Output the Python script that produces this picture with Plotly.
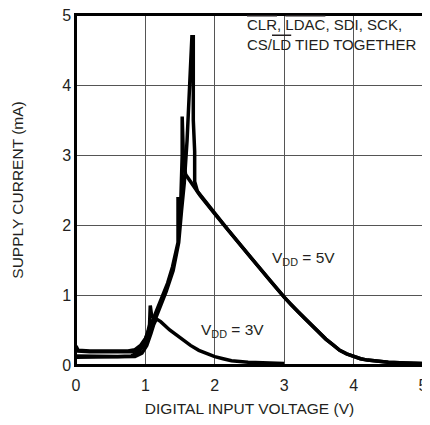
import plotly.graph_objects as go

# VDD = 5V, sweep 1 (with the 3.55 mA spike)
x5a = [0, 0.03, 0.2, 0.5, 0.75, 0.85, 0.93, 1.0, 1.07, 1.15, 1.24, 1.32, 1.39, 1.44, 1.47, 1.47, 1.48, 1.51, 1.53, 1.53, 1.54, 1.55, 1.58,
       1.72, 1.79, 2.0, 2.19, 2.5, 2.8, 3.0, 3.1, 3.2, 3.3, 3.4, 3.5, 3.6, 3.7, 3.8, 3.9, 4.0, 4.1, 4.2, 4.35, 4.5, 4.75, 5.0]
y5a = [0.27, 0.21, 0.2, 0.2, 0.2, 0.22, 0.28, 0.38, 0.55, 0.75, 0.95, 1.17, 1.40, 1.6, 1.75, 2.4, 1.95, 2.34, 3.0, 3.55, 2.95, 2.9, 2.72,
       2.52, 2.42, 2.16, 1.93, 1.56, 1.2, 0.97, 0.86, 0.76, 0.66, 0.56, 0.46, 0.37, 0.29, 0.21, 0.16, 0.12, 0.09, 0.07, 0.05, 0.04, 0.03, 0.02]

# VDD = 5V, sweep 2 (with the 4.69 mA spike)
x5b = [0, 0.03, 0.2, 0.5, 0.8, 0.9, 0.97, 1.05, 1.12, 1.2, 1.3, 1.4, 1.48, 1.52, 1.56, 1.6, 1.64, 1.67, 1.69, 1.69, 1.71, 1.71, 1.75,
       2.0, 2.19, 2.5, 2.8, 3.0, 3.1, 3.2, 3.3, 3.4, 3.5, 3.6, 3.7, 3.8, 3.9, 4.0, 4.1, 4.2, 4.35, 4.5, 4.75, 5.0]
y5b = [0.24, 0.2, 0.19, 0.19, 0.19, 0.21, 0.28, 0.42, 0.6, 0.82, 1.05, 1.35, 1.75, 2.2, 2.6, 3.2, 3.95, 4.69, 4.69, 3.5, 3.05, 2.62, 2.48,
       2.16, 1.93, 1.56, 1.2, 0.97, 0.86, 0.76, 0.66, 0.56, 0.46, 0.37, 0.29, 0.21, 0.16, 0.12, 0.09, 0.07, 0.05, 0.04, 0.03, 0.02]

# VDD = 3V
x3 = [0, 0.3, 0.6, 0.8, 0.9, 0.97, 1.03, 1.06, 1.07, 1.09, 1.12, 1.16, 1.22, 1.35, 1.53, 1.65, 1.77, 1.9, 2.0, 2.12, 2.24, 2.48, 2.75, 3.0]
y3 = [0.13, 0.12, 0.12, 0.13, 0.18, 0.28, 0.45, 0.58, 0.85, 0.7, 0.68, 0.66, 0.62, 0.5, 0.36, 0.28, 0.21, 0.16, 0.12, 0.09, 0.06, 0.04, 0.03, 0.02]
x3b = [0, 0.3, 0.6, 0.85, 0.95, 1.02, 1.08, 1.12, 1.16]
y3b = [0.11, 0.11, 0.11, 0.12, 0.17, 0.28, 0.45, 0.58, 0.66]

x_ticks = [0, 1, 2, 3, 4, 5]
y_ticks = [0, 1, 2, 3, 4, 5]

FONT = "Liberation Sans, Arial, sans-serif"
TXT = "#231f20"

fig = go.Figure()
line = dict(color="black", width=3.5)
for xs, ys in [(x5a, y5a), (x5b, y5b), (x3, y3), (x3b, y3b)]:
    fig.add_trace(go.Scatter(x=xs, y=ys, mode="lines", line=line, showlegend=False, hoverinfo="skip"))

fig.add_annotation(x=2.44, y=4.72, xref="x", yref="y", xanchor="left", yanchor="middle", align="left", showarrow=False,
                   text='<span style="text-decoration:overline">CLR</span>, <span style="text-decoration:overline">LDAC</span>, SDI, SCK,<br>CS/<span style="text-decoration:overline">LD</span> TIED TOGETHER',
                   font=dict(family=FONT, size=15, color=TXT))
fig.add_annotation(x=2.79, y=1.52, xref="x", yref="y", xanchor="left", yanchor="middle", showarrow=False,
                   text="V<sub>DD</sub> = 5V", font=dict(family=FONT, size=15.5, color=TXT))
fig.add_annotation(x=1.77, y=0.5, xref="x", yref="y", xanchor="left", yanchor="middle", showarrow=False,
                   text="V<sub>DD</sub> = 3V", font=dict(family=FONT, size=15.5, color=TXT))

# plot frame
fig.add_shape(type="rect", xref="paper", yref="paper", x0=0, x1=1, y0=0, y1=1,
              line=dict(color="black", width=2), layer="above")

axis_common = dict(showgrid=True, gridcolor="#555555", gridwidth=1, zeroline=False, automargin=False,
                   showline=True, linecolor="black", linewidth=1.5, mirror=True, ticks="",
                   ticklabeloverflow="allow",
                   tickfont=dict(family=FONT, size=16, color=TXT))
fig.update_xaxes(range=[0, 5], tickvals=x_ticks, ticktext=[str(v) for v in x_ticks], ticklabelstandoff=5,
                 title=dict(text="DIGITAL INPUT VOLTAGE (V)", font=dict(family=FONT, size=15.5, color=TXT), standoff=14),
                 **axis_common)
fig.update_yaxes(range=[0, 5], tickvals=y_ticks, ticktext=[str(v) for v in y_ticks],
                 title=dict(text="SUPPLY CURRENT (mA)", font=dict(family=FONT, size=15.5, color=TXT), standoff=35),
                 **axis_common)
fig.update_layout(width=422, height=409, margin=dict(l=68, r=7, t=7, b=52),
                  plot_bgcolor="white", paper_bgcolor="white")
fig.write_html("out.html")
